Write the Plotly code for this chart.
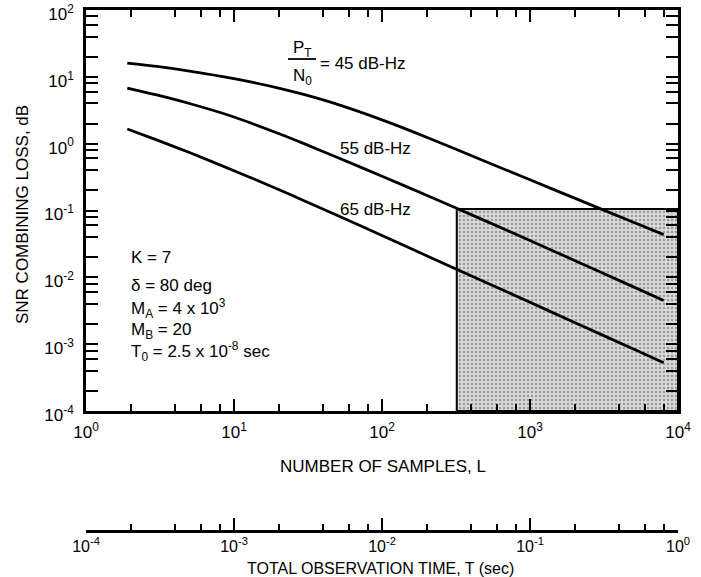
import plotly.graph_objects as go

# ---- data ----
L_samples = [1.9, 3, 5, 10, 20, 30, 50, 100, 200, 500, 1000, 2000, 5000, 8000]
loss_45 = [16, 14.3, 12.2, 9.4, 6.8, 5.4, 3.87, 2.27, 1.25, 0.54, 0.288, 0.153, 0.0667, 0.0435]
loss_55 = [6.8, 5.37, 3.99, 2.51, 1.42, 0.993, 0.621, 0.326, 0.169, 0.070, 0.0355, 0.0179, 0.0072, 0.0045]
loss_65 = [1.66, 1.14, 0.736, 0.394, 0.206, 0.139, 0.084, 0.0423, 0.0211, 0.00845, 0.00423, 0.00211, 0.000845, 0.000528]

region_L = [320, 1e4, 1e4, 320, 320]
region_loss = [1e-4, 1e-4, 0.105, 0.105, 1e-4]

x_ticks = [1, 10, 100, 1000, 10000]
x_ticktext = ["10<sup>0</sup>", "10<sup>1</sup>", "10<sup>2</sup>", "10<sup>3</sup>", "10<sup>4</sup>"]
y_ticks = [1e-4, 1e-3, 1e-2, 1e-1, 1, 10, 100]
y_ticktext = ["10<sup>-4</sup>", "10<sup>-3</sup>", "10<sup>-2</sup>", "10<sup>-1</sup>",
              "10<sup>0</sup>", "10<sup>1</sup>", "10<sup>2</sup>"]
t_ticks = [1e-4, 1e-3, 1e-2, 1e-1, 1]
t_ticktext = ["10<sup>-4</sup>", "10<sup>-3</sup>", "10<sup>-2</sup>", "10<sup>-1</sup>", "10<sup>0</sup>"]
minor_mult = [2, 4, 6, 8]

x_minor = [m * 10 ** e for e in range(0, 4) for m in minor_mult]
y_minor = [m * 10 ** e for e in range(-4, 2) for m in minor_mult]
t_minor = [m * 10 ** e for e in range(-4, 0) for m in minor_mult]

FONT = "Liberation Sans, Arial, Helvetica, sans-serif"
W, H = 701, 577
L_PX, R_PX, T_PX, B_PX = 86, 678, 10, 531   # plotting area in pixels
MAIN_BOTTOM_PX = 411


def px(xp):
    return (xp - L_PX) / (R_PX - L_PX)


def py(yp):
    return (B_PX - yp) / (B_PX - T_PX)


fig = go.Figure()

fig.add_trace(go.Scatter(
    x=region_L, y=region_loss, mode="lines", fill="toself",
    line=dict(color="black", width=2),
    fillcolor="#d4d4d4",
    fillpattern=dict(shape=".", size=4, solidity=0.3, fgcolor="#5a5a5a", bgcolor="#dadada"),
    hoverinfo="skip", showlegend=False,
))

for ys in (loss_45, loss_55, loss_65):
    fig.add_trace(go.Scatter(x=L_samples, y=ys, mode="lines",
                             line=dict(color="black", width=2.8, shape="spline", smoothing=0.8),
                             showlegend=False, hoverinfo="skip"))

# invisible trace to activate the secondary time axis
fig.add_trace(go.Scatter(x=[t_ticks[0], t_ticks[-1]], y=[None, None], xaxis="x2", yaxis="y",
                         mode="lines", showlegend=False, hoverinfo="skip"))

axis_common = dict(showline=True, linecolor="black", linewidth=2.5, showgrid=False, zeroline=False,
                   ticks="inside", tickcolor="black", tickwidth=1.6, ticklen=12,
                   tickmode="array", automargin=False, ticklabeloverflow="allow")

fig.update_layout(
    width=W, height=H,
    margin=dict(l=L_PX, r=W - R_PX, t=T_PX, b=H - B_PX, pad=0, autoexpand=False),
    paper_bgcolor="white", plot_bgcolor="white",
    font=dict(family=FONT, size=17, color="black"),
    xaxis=dict(type="log", range=[0, 4], tickvals=x_ticks, ticktext=x_ticktext,
               mirror="allticks", anchor="y", ticklabelstandoff=4,
               tickfont=dict(family=FONT, size=17, color="black"),
               minor=dict(ticks="inside", tickvals=x_minor, ticklen=7, tickwidth=1.6, tickcolor="black"),
               **axis_common),
    yaxis=dict(type="log", range=[-4, 2], tickvals=y_ticks, ticktext=y_ticktext,
               mirror="allticks", domain=[py(MAIN_BOTTOM_PX), 1], ticklabelstandoff=6,
               ticklabelshift=4,
               tickfont=dict(family=FONT, size=17, color="black"),
               minor=dict(ticks="inside", tickvals=y_minor, ticklen=7, tickwidth=1.6, tickcolor="black"),
               **axis_common),
    xaxis2=dict(type="log", range=[-4, 0], tickvals=t_ticks, ticktext=t_ticktext,
                anchor="free", position=0, overlaying="x", side="bottom", ticklabelstandoff=0,
                tickfont=dict(family=FONT, size=16, color="black"),
                minor=dict(ticks="inside", tickvals=t_minor, ticklen=6, tickwidth=1.6, tickcolor="black"),
                **axis_common),
)

# fraction bar for P_T / N_0
fig.add_shape(type="line", xref="paper", yref="paper", x0=px(288), x1=px(316), y0=py(59), y1=py(59),
              line=dict(color="black", width=1.8))


def ann(text, xp, yp, xanchor="left", yanchor="middle", size=17, angle=0):
    fig.add_annotation(text=text, x=px(xp), y=py(yp), xref="paper", yref="paper",
                       xanchor=xanchor, yanchor=yanchor, showarrow=False, textangle=angle,
                       font=dict(family=FONT, size=size, color="black"))


ann("P<sub>T</sub>", 302, 49, xanchor="center")
ann("N<sub>0</sub>", 302, 77, xanchor="center")
ann("= 45 dB-Hz", 318, 64)
ann("55 dB-Hz", 338, 148)
ann("65 dB-Hz", 338, 209)

ann("K = 7", 129, 257)
ann("δ = 80 deg", 129, 285)
ann("M<sub>A</sub> = 4 x 10<sup>3</sup>", 129, 309)
ann("M<sub>B</sub> = 20", 129, 331)
ann("T<sub>0</sub> = 2.5 x 10<sup>-8</sup> sec", 129, 351)

ann("SNR COMBINING LOSS, dB", 22, 215, xanchor="center", angle=-90)
ann("NUMBER OF SAMPLES, L", 383, 466, xanchor="center")
ann("TOTAL OBSERVATION TIME, T (sec)", 380, 568, xanchor="center", size=16)

fig.write_html("out.html", config={"displayModeBar": False},
               post_script="document.body.style.margin='0px';document.body.style.overflow='hidden';")
